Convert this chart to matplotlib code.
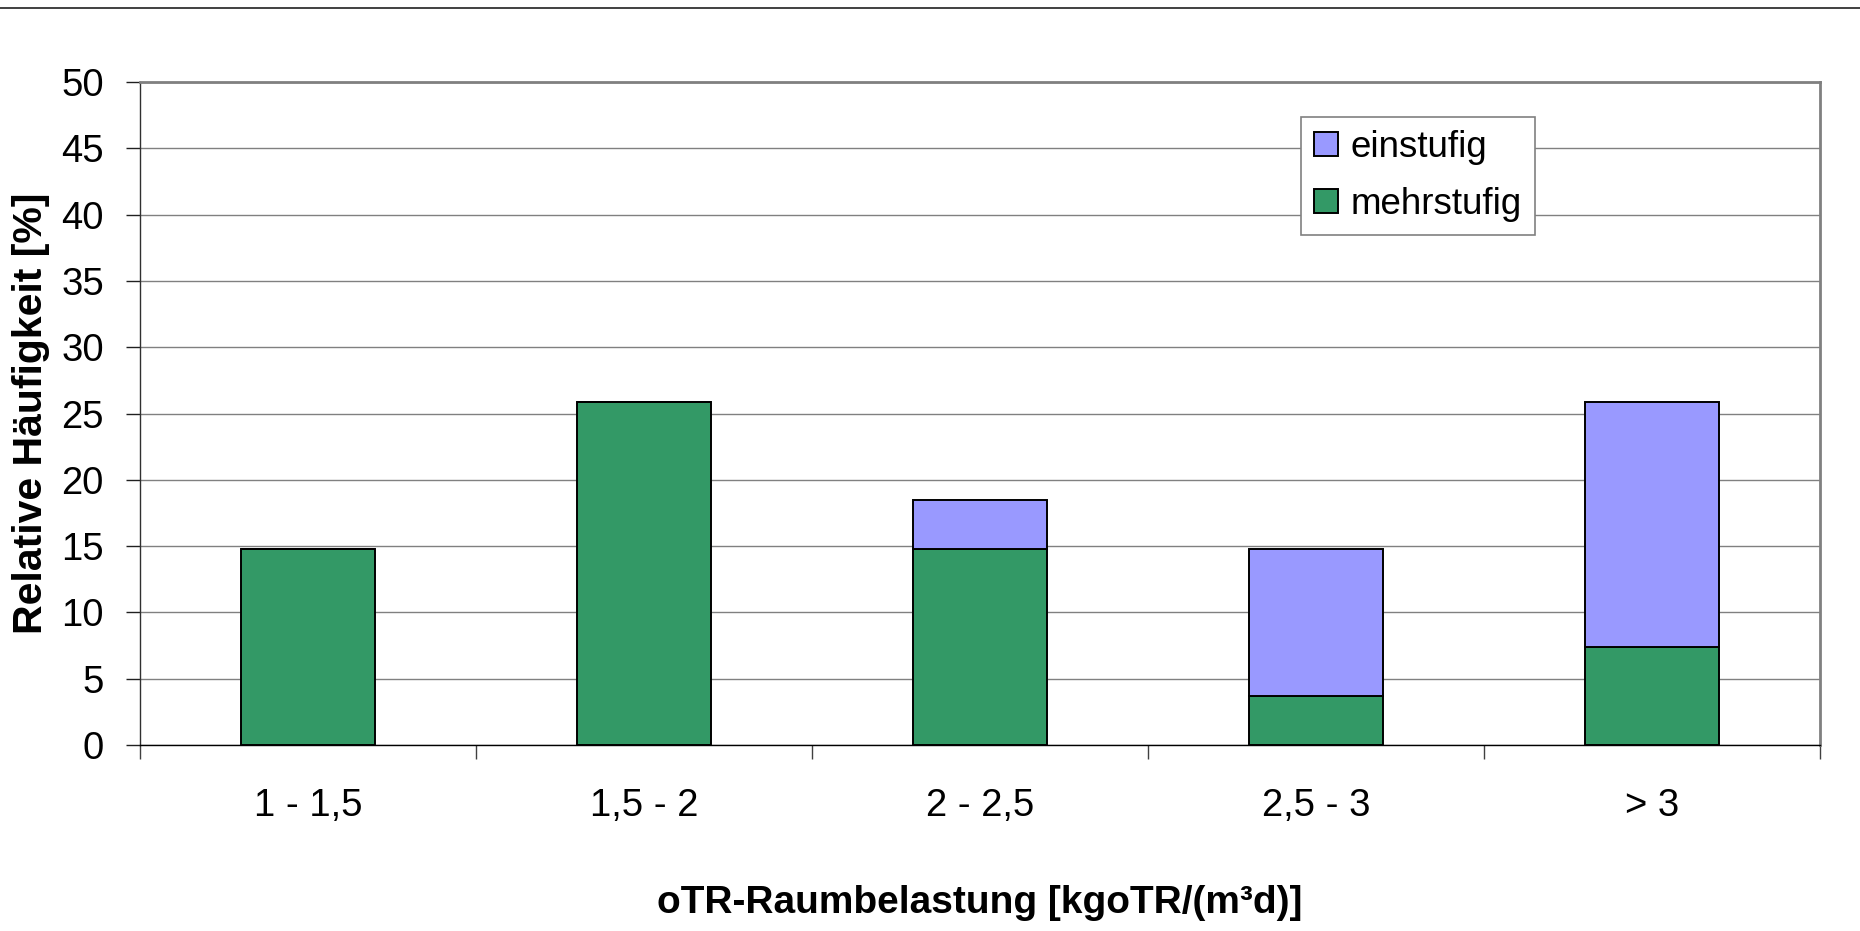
import matplotlib
matplotlib.use("Agg")
import matplotlib.pyplot as plt
from matplotlib.lines import Line2D
import numpy as np

categories = ["1 - 1,5", "1,5 - 2", "2 - 2,5", "2,5 - 3", "> 3"]
mehrstufig = [14.8, 25.9, 14.8, 3.7, 7.4]
einstufig = [0.0, 0.0, 3.7, 11.1, 18.5]
yticks = [0, 5, 10, 15, 20, 25, 30, 35, 40, 45, 50]

plt.rcParams['font.family'] = ['Liberation Sans', 'DejaVu Sans']

W, H = 1860, 931
fig = plt.figure(figsize=(W / 100, H / 100), dpi=100)
ax = fig.add_axes([140 / W, (H - 745) / H, 1680 / W, 663 / H])

x = np.arange(len(categories))
green = '#339966'
purple = '#9999FF'
ax.bar(x, mehrstufig, width=0.4, color=green, edgecolor='black', linewidth=1.4,
       label='mehrstufig', zorder=3)
ax.bar(x, einstufig, width=0.4, bottom=mehrstufig, color=purple, edgecolor='black',
       linewidth=1.4, label='einstufig', zorder=3)

ax.set_xlim(-0.5, len(categories) - 0.5)
ax.set_ylim(0, 50)
ax.set_yticks(yticks)
ax.yaxis.grid(True, color='#808080', linewidth=1.0, zorder=0)
ax.set_axisbelow(True)

# x ticks at category boundaries, labels at centres
ax.set_xticks(np.arange(-0.5, len(categories), 1.0))
ax.set_xticklabels([])
ax.set_xticks(x, minor=True)
ax.set_xticklabels(categories, minor=True)
ax.tick_params(axis='x', which='major', direction='out', length=10, width=1.0,
               color='#404040')
ax.tick_params(axis='x', which='minor', length=0, pad=31, labelsize=27.5)
ax.tick_params(axis='y', direction='out', length=10, width=1.0, color='#202020',
               pad=16, labelsize=27.5)

for side in ['top', 'right']:
    ax.spines[side].set_color('#808080')
    ax.spines[side].set_linewidth(2.0)
ax.spines['left'].set_color('#303030')
ax.spines['left'].set_linewidth(1.0)
ax.spines['bottom'].set_color('black')
ax.spines['bottom'].set_linewidth(1.0)

ax.set_ylabel('Relative Häufigkeit [%]', fontsize=29.5, fontweight='bold')
ax.yaxis.set_label_coords((50 - 140) / 1680, 0.5)
ax.set_xlabel('oTR-Raumbelastung [kgoTR/(m³d)]', fontsize=28, fontweight='bold',
              labelpad=44)

handles, labels = ax.get_legend_handles_labels()
leg = ax.legend(handles[::-1], labels[::-1], loc='upper left',
                bbox_to_anchor=((1301 - 140) / 1680, (745 - 117) / 663),
                borderaxespad=0, fontsize=26.5, frameon=True, fancybox=False,
                framealpha=1, edgecolor='#808080', handlelength=0.65,
                handleheight=0.65, handletextpad=0.35, borderpad=0.35,
                labelspacing=0.6)
leg.get_frame().set_linewidth(1.2)
leg.set_zorder(5)

fig.add_artist(Line2D([0, 1], [1 - 7.5 / H, 1 - 7.5 / H], color='#202020',
                      linewidth=1.2, transform=fig.transFigure))

fig.savefig('out.png', dpi=100)
